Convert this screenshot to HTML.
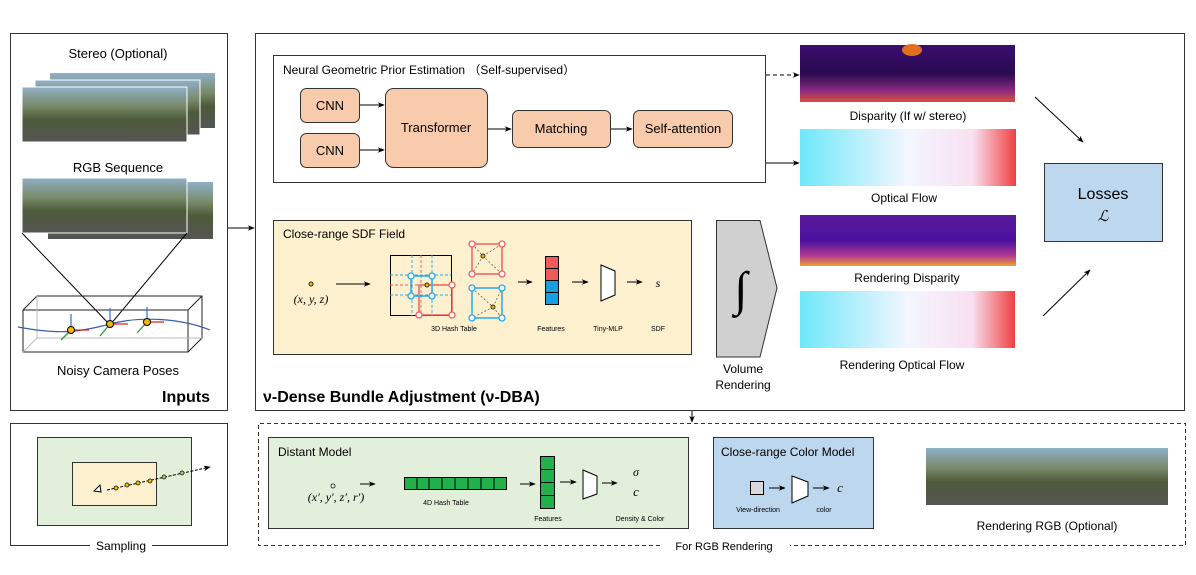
<!DOCTYPE html><html><head><meta charset="utf-8"><style>body{margin:0;background:#fff}svg{display:block;font-family:"Liberation Sans",sans-serif}</style></head><body>
<svg width="1196" height="575" viewBox="0 0 1196 575" xmlns="http://www.w3.org/2000/svg">
<defs>
<marker id="a" viewBox="0 0 10 10" refX="9" refY="5" markerWidth="7" markerHeight="7" orient="auto"><path d="M0,1 L10,5 L0,9 L3,5z" fill="#000"/></marker>
<linearGradient id="photo" x1="0" y1="0" x2="0" y2="1"><stop offset="0" stop-color="#8fb0c8"/><stop offset=".35" stop-color="#7a8a6a"/><stop offset=".6" stop-color="#4d5a3a"/><stop offset="1" stop-color="#555"/></linearGradient>
<linearGradient id="disp" x1="0" y1="0" x2="0" y2="1"><stop offset="0" stop-color="#3a0e6e"/><stop offset=".5" stop-color="#2a0a50"/><stop offset=".8" stop-color="#8a2a80"/><stop offset="1" stop-color="#d9503a"/></linearGradient>
<linearGradient id="rdisp" x1="0" y1="0" x2="0" y2="1"><stop offset="0" stop-color="#5a1a9a"/><stop offset=".5" stop-color="#4a10a0"/><stop offset=".8" stop-color="#b03a90"/><stop offset="1" stop-color="#f0a030"/></linearGradient>
<linearGradient id="of" x1="0" y1="0" x2="1" y2="0"><stop offset="0" stop-color="#6ee8f8"/><stop offset=".5" stop-color="#f4f6ff"/><stop offset=".8" stop-color="#f8e0f0"/><stop offset="1" stop-color="#f04040"/></linearGradient>
</defs>
<!-- Inputs -->
<rect x="10.5" y="33.5" width="217" height="377" fill="#fff" stroke="#333"/>
<text x="118" y="58" font-size="13" text-anchor="middle">Stereo (Optional)</text>
<rect x="50" y="73" width="165" height="55" fill="url(#photo)"/>
<rect x="35" y="80" width="165" height="55" fill="url(#photo)" stroke="#fff"/>
<rect x="22" y="87" width="165" height="55" fill="url(#photo)" stroke="#fff"/>
<text x="118" y="172" font-size="13" text-anchor="middle">RGB Sequence</text>
<rect x="48" y="182" width="165" height="57" fill="url(#photo)"/>
<rect x="22" y="178" width="165" height="55" fill="url(#photo)" stroke="#fff"/>
<line x1="22" y1="233" x2="110" y2="325" stroke="#000"/><line x1="187" y1="233" x2="110" y2="325" stroke="#000"/>
<g fill="none" stroke="#222"><rect x="23" y="310" width="165" height="42"/><path d="M23,310 L37,296 L202,296 L202,338 L188,352 M188,310 L202,296"/><path d="M37,296 L37,338 L202,338 M37,338 L23,352" stroke="#bbb"/></g>
<path d="M18,327 C60,335 80,332 110,324 S180,318 210,330" stroke="#3a5fa8" fill="none" stroke-width="1.2"/>
<g stroke-width="1.3"><line x1="71" y1="330" x2="71" y2="314" stroke="#3a7ad8"/><line x1="71" y1="330" x2="89" y2="330" stroke="#e02020"/><line x1="71" y1="330" x2="61" y2="340" stroke="#2a9a3a"/>
<line x1="110" y1="324" x2="110" y2="308" stroke="#3a7ad8"/><line x1="110" y1="324" x2="128" y2="324" stroke="#e02020"/><line x1="110" y1="324" x2="100" y2="336" stroke="#2a9a3a"/>
<line x1="147" y1="322" x2="147" y2="307" stroke="#3a7ad8"/><line x1="147" y1="322" x2="164" y2="322" stroke="#e02020"/><line x1="147" y1="322" x2="137" y2="333" stroke="#2a9a3a"/></g>
<circle cx="71" cy="330" r="3.5" fill="#f5b800" stroke="#000"/><circle cx="110" cy="324" r="3.5" fill="#f5b800" stroke="#000"/><circle cx="147" cy="322" r="3.5" fill="#f5b800" stroke="#000"/>
<text x="118" y="375" font-size="13" text-anchor="middle">Noisy Camera Poses</text>
<text x="210" y="402" font-size="16" font-weight="bold" text-anchor="end">Inputs</text>
<line x1="228" y1="228" x2="254" y2="228" stroke="#000" marker-end="url(#a)"/>
<!-- main -->
<rect x="255.5" y="33.5" width="929" height="377" fill="#fff" stroke="#333"/>
<rect x="273.5" y="55.5" width="492" height="127" fill="#fff" stroke="#333"/>
<text x="283" y="74" font-size="12">Neural Geometric Prior Estimation （Self-supervised）</text>
<g fill="#f8cbad" stroke="#333"><rect x="300.5" y="88.5" width="59" height="34" rx="6"/><rect x="300.5" y="133.5" width="59" height="34" rx="6"/><rect x="385.5" y="88.5" width="102" height="79" rx="8"/><rect x="512.5" y="110.5" width="98" height="37" rx="6"/><rect x="633.5" y="110.5" width="99" height="37" rx="6"/></g>
<g font-size="13" text-anchor="middle"><text x="330" y="110">CNN</text><text x="330" y="155">CNN</text><text x="436" y="132">Transformer</text><text x="561" y="133">Matching</text><text x="683" y="133">Self-attention</text></g>
<g stroke="#000" marker-end="url(#a)"><line x1="360" y1="105" x2="384" y2="105"/><line x1="360" y1="150" x2="384" y2="150"/><line x1="488" y1="129" x2="511" y2="129"/><line x1="611" y1="129" x2="632" y2="129"/><line x1="766" y1="75" x2="799" y2="75" stroke-dasharray="4,3"/><line x1="766" y1="163" x2="799" y2="163"/></g>
<!-- SDF -->
<rect x="273.5" y="220.5" width="418" height="134" fill="#fdf0cf" stroke="#333"/>
<text x="283" y="238" font-size="12">Close-range SDF Field</text>
<circle cx="311" cy="284" r="2" fill="#f5c000" stroke="#000" stroke-width=".8"/>
<text x="311" y="303" font-size="12" font-style="italic" font-family="Liberation Serif" text-anchor="middle">(x, y, z)</text>
<line x1="336" y1="284" x2="370" y2="284" stroke="#000" marker-end="url(#a)"/>
<rect x="390.5" y="255.5" width="61" height="60" fill="none" stroke="#000"/>
<g stroke-dasharray="3,2" stroke-width=".9" fill="none"><path d="M390,275 H451 M390,295 H451 M412,255 V316 M432,255 V316" stroke="#29a8e8"/><path d="M390,285 H451 M421,255 V316" stroke="#f06060"/></g>
<rect x="419" y="285" width="33" height="30" fill="none" stroke="#f06060" stroke-width="1.5"/>
<rect x="411" y="276" width="21" height="20" fill="none" stroke="#29a8e8" stroke-width="1.5"/>
<g fill="#fff" stroke-width="1.3"><g stroke="#29a8e8"><circle cx="411" cy="276" r="3"/><circle cx="432" cy="276" r="3"/><circle cx="411" cy="296" r="3"/><circle cx="432" cy="296" r="3"/></g><g stroke="#f06060"><circle cx="452" cy="285" r="3"/><circle cx="419" cy="315" r="3"/><circle cx="452" cy="315" r="3"/></g></g>
<circle cx="427" cy="285" r="2" fill="#f5c000" stroke="#000" stroke-width=".8"/>
<rect x="472" y="244" width="30" height="30" fill="none" stroke="#f06060" stroke-width="1.5"/>
<rect x="472" y="288" width="30" height="30" fill="none" stroke="#29a8e8" stroke-width="1.5"/>
<g stroke="#333" stroke-dasharray="2,2" stroke-width=".6" fill="none"><path d="M472,244 L483,256 L502,274 M483,256 L472,274 M483,256 L502,244"/><path d="M472,288 L493,307 L472,318 M493,307 L502,318 M493,307 L502,288"/></g>
<g fill="#fff" stroke-width="1.3"><g stroke="#f06060"><circle cx="472" cy="244" r="3"/><circle cx="502" cy="244" r="3"/><circle cx="472" cy="274" r="3"/><circle cx="502" cy="274" r="3"/></g><g stroke="#29a8e8"><circle cx="472" cy="288" r="3"/><circle cx="502" cy="288" r="3"/><circle cx="472" cy="318" r="3"/><circle cx="502" cy="318" r="3"/></g></g>
<circle cx="483" cy="256" r="2" fill="#f5c000" stroke="#000" stroke-width=".8"/><circle cx="493" cy="307" r="2" fill="#f5c000" stroke="#000" stroke-width=".8"/>
<text x="454" y="331" font-size="7" text-anchor="middle">3D Hash Table</text>
<line x1="518" y1="282" x2="532" y2="282" stroke="#000" marker-end="url(#a)"/>
<g stroke="#000"><rect x="545.5" y="256.5" width="13" height="12" fill="#f05a5a"/><rect x="545.5" y="268.5" width="13" height="12" fill="#f05a5a"/><rect x="545.5" y="280.5" width="13" height="12" fill="#1aa0e0"/><rect x="545.5" y="292.5" width="13" height="12" fill="#1aa0e0"/></g>
<text x="551" y="331" font-size="7" text-anchor="middle">Features</text>
<line x1="572" y1="282" x2="588" y2="282" stroke="#000" marker-end="url(#a)"/>
<path d="M601,265 L615,271 L615,295 L601,301z" fill="#fff" stroke="#000"/>
<text x="608" y="331" font-size="7" text-anchor="middle">Tiny-MLP</text>
<line x1="627" y1="282" x2="642" y2="282" stroke="#000" marker-end="url(#a)"/>
<text x="658" y="287" font-size="12" font-style="italic" font-family="Liberation Serif" text-anchor="middle">s</text>
<text x="658" y="331" font-size="7" text-anchor="middle">SDF</text>
<!-- volume -->
<path d="M716.5,220.5 L760,220.5 L777,288 L760,357 L716.5,357z" fill="#d0d0d0" stroke="#333"/>
<text x="741" y="305" font-size="48" font-family="Liberation Serif" font-style="italic" text-anchor="middle">∫</text>
<text x="743" y="373" font-size="12" text-anchor="middle">Volume</text><text x="743" y="389" font-size="12" text-anchor="middle">Rendering</text>
<!-- images -->
<rect x="800" y="45" width="215" height="57" fill="url(#disp)"/><ellipse cx="912" cy="50" rx="10" ry="6" fill="#e07020"/>
<text x="908" y="120" font-size="12" text-anchor="middle">Disparity (If w/ stereo)</text>
<rect x="800" y="129" width="216" height="57" fill="url(#of)"/>
<text x="904" y="202" font-size="12" text-anchor="middle">Optical Flow</text>
<rect x="800" y="215" width="216" height="51" fill="url(#rdisp)"/>
<text x="907" y="282" font-size="12" text-anchor="middle">Rendering Disparity</text>
<rect x="800" y="291" width="215" height="57" fill="url(#of)"/>
<text x="902" y="369" font-size="12" text-anchor="middle">Rendering Optical Flow</text>
<line x1="1035" y1="97" x2="1083" y2="142" stroke="#000" marker-end="url(#a)"/>
<line x1="1043" y1="316" x2="1090" y2="270" stroke="#000" marker-end="url(#a)"/>
<rect x="1044.5" y="163.5" width="118" height="78" fill="#bdd7ee" stroke="#333"/>
<text x="1103" y="199" font-size="16" text-anchor="middle">Losses</text>
<text x="1103" y="221" font-size="15" font-style="italic" font-family="Liberation Serif" text-anchor="middle">ℒ</text>
<text x="263" y="402" font-size="16" font-weight="bold">ν-Dense Bundle Adjustment (ν-DBA)</text>
<line x1="692" y1="411" x2="692" y2="422" stroke="#000" marker-end="url(#a)"/>
<!-- sampling -->
<path d="M90,545.5 H10.5 V423.5 H227.5 V545.5 H152" fill="none" stroke="#333"/>
<text x="121" y="550" font-size="12" text-anchor="middle">Sampling</text>
<rect x="37.5" y="437.5" width="154" height="88" fill="#e2efda" stroke="#333"/>
<rect x="72.5" y="462.5" width="84" height="43" fill="#fdf0cf" stroke="#333"/>
<line x1="107" y1="490" x2="210" y2="467" stroke="#000" stroke-dasharray="3,1.5" marker-end="url(#a)"/>
<path d="M101,492 L94,491 L100,485z" fill="#fff" stroke="#000"/>
<g stroke="#000" stroke-width=".7"><circle cx="116" cy="488" r="2" fill="#f5c000"/><circle cx="127" cy="485" r="2" fill="#f5c000"/><circle cx="138" cy="483" r="2" fill="#f5c000"/><circle cx="150" cy="481" r="2" fill="#f5c000"/><circle cx="164" cy="477" r="2" fill="#a8d070"/><circle cx="182" cy="473" r="2" fill="#a8d070"/></g>
<!-- RGB rendering -->
<path d="M660,545.5 H258.5 V423.5 H1185.5 V545.5 H790" fill="none" stroke="#333" stroke-dasharray="4,3"/>
<text x="724" y="550" font-size="11" text-anchor="middle">For RGB Rendering</text>
<rect x="268.5" y="437.5" width="420" height="91" fill="#e2efda" stroke="#333"/>
<text x="278" y="456" font-size="12">Distant Model</text>
<circle cx="333" cy="486" r="2" fill="#fff" stroke="#000" stroke-width=".8"/>
<text x="336" y="501" font-size="12" font-style="italic" font-family="Liberation Serif" text-anchor="middle">(x′, y′, z′, r′)</text>
<line x1="360" y1="484" x2="375" y2="484" stroke="#000" marker-end="url(#a)"/>
<g fill="#22b04a" stroke="#000"><rect x="404.5" y="477.5" width="102" height="12"/></g>
<path d="M417,477 V489 M429,477 V489 M442,477 V489 M455,477 V489 M468,477 V489 M481,477 V489 M494,477 V489" stroke="#000"/>
<text x="446" y="505" font-size="7" text-anchor="middle">4D Hash Table</text>
<line x1="520" y1="484" x2="535" y2="484" stroke="#000" marker-end="url(#a)"/>
<rect x="540.5" y="456.5" width="14" height="52" fill="#22b04a" stroke="#000"/>
<path d="M540,469.5 H555 M540,482.5 H555 M540,495.5 H555" stroke="#000"/>
<text x="548" y="521" font-size="7" text-anchor="middle">Features</text>
<line x1="560" y1="482" x2="576" y2="482" stroke="#000" marker-end="url(#a)"/>
<path d="M583,470 L597,476 L597,494 L583,499z" fill="#fff" stroke="#000"/>
<line x1="602" y1="483" x2="617" y2="483" stroke="#000" marker-end="url(#a)"/>
<text x="636" y="476" font-size="12" font-style="italic" font-family="Liberation Serif" text-anchor="middle">σ</text>
<text x="636" y="496" font-size="13" font-style="italic" font-family="Liberation Serif" text-anchor="middle">c</text>
<text x="640" y="521" font-size="7" text-anchor="middle">Density &amp; Color</text>
<rect x="713.5" y="437.5" width="160" height="91" fill="#bdd7ee" stroke="#333"/>
<text x="721" y="456" font-size="12">Close-range Color Model</text>
<rect x="750.5" y="481.5" width="13" height="13" fill="#d9d9d9" stroke="#000"/>
<line x1="769" y1="488" x2="785" y2="488" stroke="#000" marker-end="url(#a)"/>
<path d="M792,476 L808,482 L808,496 L792,503z" fill="#fff" stroke="#000"/>
<line x1="813" y1="488" x2="829" y2="488" stroke="#000" marker-end="url(#a)"/>
<text x="840" y="492" font-size="13" font-style="italic" font-family="Liberation Serif" text-anchor="middle">c</text>
<text x="758" y="512" font-size="7" text-anchor="middle">View-direction</text>
<text x="824" y="512" font-size="7" text-anchor="middle">color</text>
<rect x="926" y="448" width="242" height="57" fill="url(#photo)"/>
<text x="1047" y="530" font-size="12" text-anchor="middle">Rendering RGB (Optional)</text>
</svg>
</body></html>
